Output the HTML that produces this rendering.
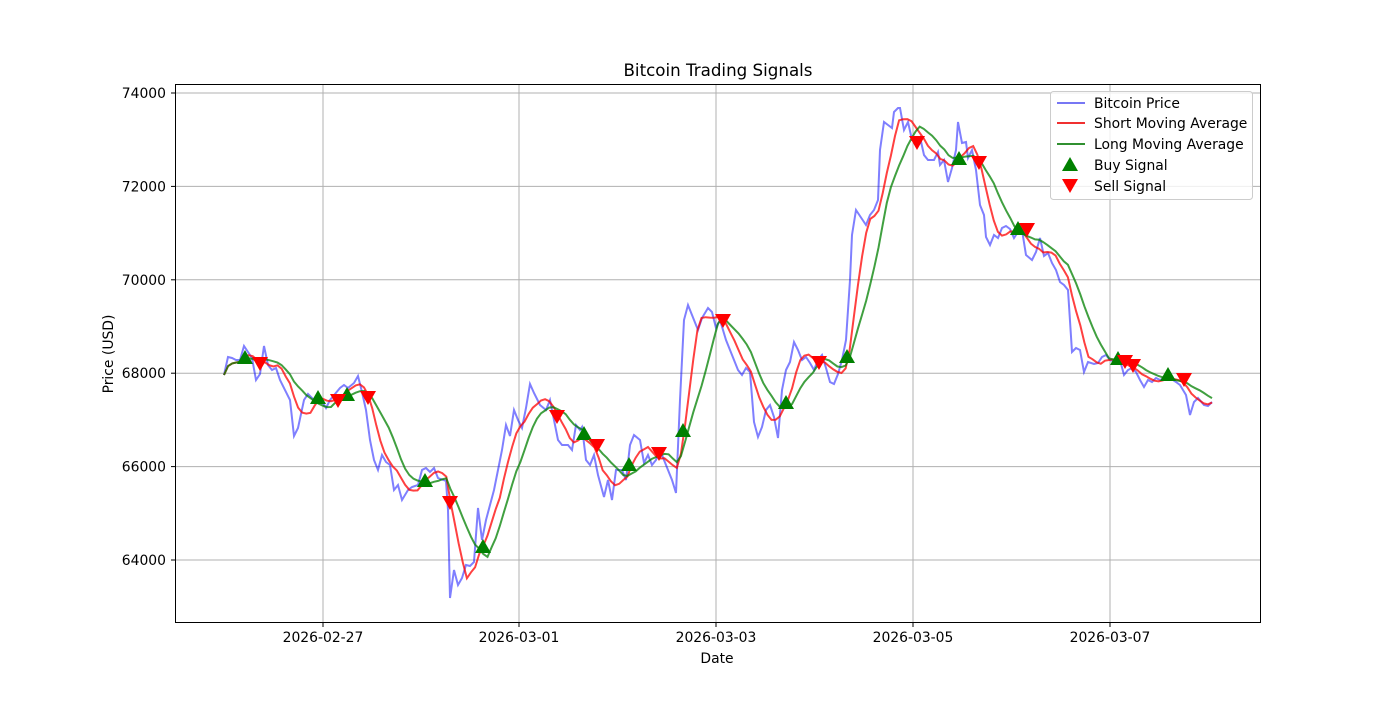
<!DOCTYPE html>
<html><head><meta charset="utf-8"><style>
body{margin:0;background:#fff}
svg text{font-family:"DejaVu Sans","Liberation Sans",sans-serif;fill:#000}
</style></head><body>
<svg id="s" width="1400" height="700" xmlns="http://www.w3.org/2000/svg">
<rect width="1400" height="700" fill="#fff"/>
<g id="grid" stroke="#b0b0b0" stroke-width="1"></g>
<g id="series"></g>
<g id="marks"></g>
<rect x="175.5" y="84.5" width="1085" height="538" fill="none" stroke="#000" stroke-width="1"/>
<g id="ticks" font-size="13.9"></g>
<text x="718" y="76" font-size="16.7" text-anchor="middle">Bitcoin Trading Signals</text>
<text x="717" y="663" font-size="13.9" text-anchor="middle">Date</text>
<text transform="translate(113,354) rotate(-90)" font-size="13.9" text-anchor="middle">Price (USD)</text>
<g>
<rect x="1050.5" y="91.5" width="202" height="108" rx="3" fill="#fff" fill-opacity="0.8" stroke="#ccc"/>
<line x1="1057" y1="103" x2="1085" y2="103" stroke="#7777f4" stroke-width="2"/>
<line x1="1057" y1="123" x2="1085" y2="123" stroke="#f03030" stroke-width="2"/>
<line x1="1057" y1="144" x2="1085" y2="144" stroke="#309030" stroke-width="2"/>
<polygon points="1070,157 1062,171 1078,171" fill="green"/>
<polygon points="1062,179 1078,179 1070,193" fill="red"/>
<g font-size="13.9"><text x="1094" y="108">Bitcoin Price</text><text x="1094" y="128">Short Moving Average</text><text x="1094" y="149">Long Moving Average</text><text x="1094" y="170">Buy Signal</text><text x="1094" y="191">Sell Signal</text></g>
</g>
</svg>
<script>
var NS="http://www.w3.org/2000/svg";
function el(t,a,p){var e=document.createElementNS(NS,t);for(var k in a)e.setAttribute(k,a[k]);document.getElementById(p).appendChild(e);return e;}
var yt=[[74000,93],[72000,186.4],[70000,279.8],[68000,373.2],[66000,466.6],[64000,560]];
yt.forEach(function(t){el('line',{x1:176,x2:1260,y1:t[1],y2:t[1]},'grid');el('line',{x1:171,x2:175,y1:t[1],y2:t[1],stroke:'#000'},'ticks');var x=el('text',{x:166,y:t[1]+5,'text-anchor':'end'},'ticks');x.textContent=t[0];});
var xt=[[323,'2026-02-27'],[519,'2026-03-01'],[716,'2026-03-03'],[913,'2026-03-05'],[1110,'2026-03-07']];
xt.forEach(function(t){el('line',{x1:t[0],x2:t[0],y1:85,y2:622},'grid');el('line',{x1:t[0],x2:t[0],y1:623,y2:627,stroke:'#000'},'ticks');var x=el('text',{x:t[0],y:642,'text-anchor':'middle'},'ticks');x.textContent=t[1];});
var P=[224,375,228,357,232,358,236,360,240,360,244,346,248,352,252,358,256,380,260,374,264,346,268,365,272,370,276,368,280,380,290,400,294,436,298,428,304,400,308,394,314,400,320,398,326,408,330,400,340,388,344,385,348,388,354,383,358,376,362,392,366,410,370,440,374,460,378,470,382,455,386,462,390,465,394,490,398,485,402,500,408,490,412,487,418,485,422,470,426,468,430,472,434,468,438,478,446,481,448,510,450,598,454,570,458,585,462,578,466,565,470,566,474,562,478,508,482,540,486,520,494,490,498,470,502,450,506,425,510,436,514,410,518,420,522,428,526,408,530,384,534,393,540,405,546,410,550,400,554,420,558,440,562,445,568,445,572,450,576,425,580,430,582,427,586,460,590,465,594,455,598,475,604,497,608,480,612,500,616,470,622,470,626,480,630,445,634,435,640,440,644,463,648,455,652,465,656,460,660,450,668,470,672,480,676,493,680,400,684,320,688,305,694,320,698,330,702,318,708,308,712,312,716,328,720,320,726,340,730,350,734,360,738,370,742,375,746,368,750,372,754,422,758,437,762,427,766,410,770,405,774,417,778,438,782,390,786,370,790,362,794,342,798,350,802,360,806,357,810,363,814,370,818,360,822,355,826,368,830,382,834,384,838,374,842,360,846,340,850,280,852,235,856,210,860,216,866,225,870,215,874,210,878,200,880,150,884,122,888,125,892,128,894,112,898,108,900,108,904,130,908,122,912,140,916,140,920,137,924,155,928,160,934,160,938,152,940,165,944,160,948,182,952,168,956,150,958,122,962,143,966,142,968,158,972,150,976,170,980,205,984,215,986,237,990,245,994,235,998,238,1002,228,1006,226,1010,229,1014,238,1018,232,1022,230,1026,255,1032,260,1036,252,1040,238,1044,256,1048,253,1052,263,1056,270,1060,282,1064,285,1068,290,1072,352,1076,348,1080,350,1084,372,1088,362,1094,364,1098,363,1102,357,1106,355,1110,360,1116,362,1120,360,1124,375,1128,370,1132,368,1136,372,1140,380,1144,387,1148,380,1152,382,1156,378,1160,380,1164,378,1170,378,1176,382,1180,385,1186,395,1190,415,1194,402,1198,398,1204,405,1208,406,1212,402];
var bl=[];for(var i=0;i<P.length;i+=2)bl.push(P[i]+','+P[i+1]);
// resample hourly
var xs=[],ys=[],n=241,j=0;
for(var k=0;k<n;k++){var x=224+k*(988/240);while(j<P.length-4&&P[j+2]<x)j+=2;var x0=P[j],x1=P[j+2],t=Math.max(0,Math.min(1,(x-x0)/(x1-x0)));xs.push(x);ys.push(P[j+1]+t*(P[j+3]-P[j+1]));}
function ma(w){var r=[];for(var k=0;k<n;k++){var s=0,c=0;for(var q=Math.max(0,k-w+1);q<=k;q++){s+=ys[q];c++;}r.push(xs[k].toFixed(1)+','+(s/c).toFixed(1));}return r.join(' ');}
el('polyline',{points:bl.join(' '),fill:'none',stroke:'#0000ff','stroke-opacity':0.5,'stroke-width':2},'series');
el('polyline',{points:ma(5),fill:'none',stroke:'#ff0000','stroke-opacity':0.75,'stroke-width':2},'series');
el('polyline',{points:ma(10),fill:'none',stroke:'#008000','stroke-opacity':0.75,'stroke-width':2},'series');
var buy=[[245,358],[318,398],[347,395],[425,481],[483,547],[584,434],[629,465],[683,431],[786,403],[847,357],[959,159],[1018,229],[1118,359],[1168,375]];
var sell=[[260,363],[338,400],[368,397],[450,502],[557,416],[597,445],[659,453],[723,320],[819,362],[917,142],[979,162],[1027,229],[1125,361],[1133,365],[1184,379]];
buy.forEach(function(p){el('polygon',{points:(p[0])+','+(p[1]-8)+' '+(p[0]-8)+','+(p[1]+6)+' '+(p[0]+8)+','+(p[1]+6),fill:'green'},'marks');});
sell.forEach(function(p){el('polygon',{points:(p[0]-8)+','+(p[1]-6)+' '+(p[0]+8)+','+(p[1]-6)+' '+(p[0])+','+(p[1]+8),fill:'red'},'marks');});
</script>
</body></html>
